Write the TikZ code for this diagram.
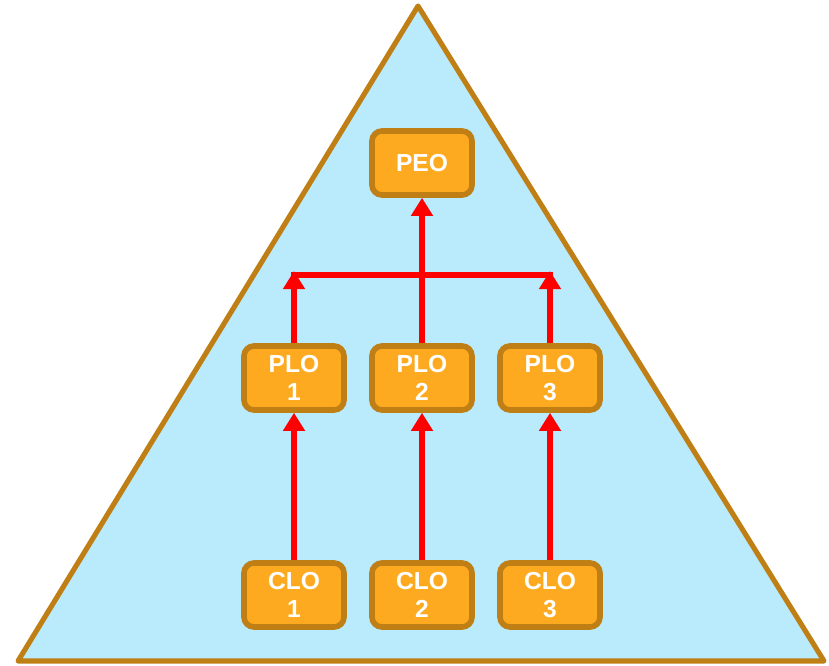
\documentclass[tikz,border=0pt]{standalone}
\usepackage{fontspec}
\setmainfont{Liberation Sans}
\usepackage{xcolor}
\usetikzlibrary{arrows.meta}
\definecolor{skyfill}{HTML}{B9EBFC}
\definecolor{bronze}{HTML}{BF7F14}
\definecolor{boxfill}{HTML}{FDAA20}
\tikzset{
  obj/.style={draw=bronze, fill=boxfill, line width=3.2pt, rounded corners=0.2cm,
    minimum width=2.0cm, minimum height=1.28cm, inner sep=0pt, align=center,
    text=white, font=\fontsize{14}{16}\selectfont\bfseries},
  flow/.style={red, line width=3.4pt, -{Triangle[width=0.42cm,length=0.36cm]}},
  bar/.style={red, line width=3.4pt}
}

\begin{document}
\begin{tikzpicture}
\useasboundingbox (0,0) rectangle (16.58,13.3);
% pyramid
\draw[bronze, fill=skyfill, line width=2.9pt, line join=round] (0.36,0.08) -- (8.36,13.18) -- (16.48,0.08) -- cycle;
% outcomes
\node[obj] (peo) at (8.44,10.04) {PEO};
\node[obj] (plo1) at (5.88,5.74) {PLO\\1};
\node[obj] (plo2) at (8.44,5.74) {PLO\\2};
\node[obj] (plo3) at (11.0,5.74) {PLO\\3};
\node[obj] (clo1) at (5.88,1.40) {CLO\\1};
\node[obj] (clo2) at (8.44,1.40) {CLO\\2};
\node[obj] (clo3) at (11.0,1.40) {CLO\\3};
% junction bar
\coordinate (b1) at (5.82,7.80);
\coordinate (b3) at (11.06,7.80);
\coordinate (t1) at (5.88,7.88);
\coordinate (t3) at (11.0,7.88);
\draw[bar] (b1) -- (b3);
\draw[flow] (plo1) -- (t1);
\draw[flow] (plo3) -- (t3);
\draw[flow] (plo2) -- (peo);
\draw[flow] (clo1) -- (plo1);
\draw[flow] (clo2) -- (plo2);
\draw[flow] (clo3) -- (plo3);
\end{tikzpicture}
\end{document}
